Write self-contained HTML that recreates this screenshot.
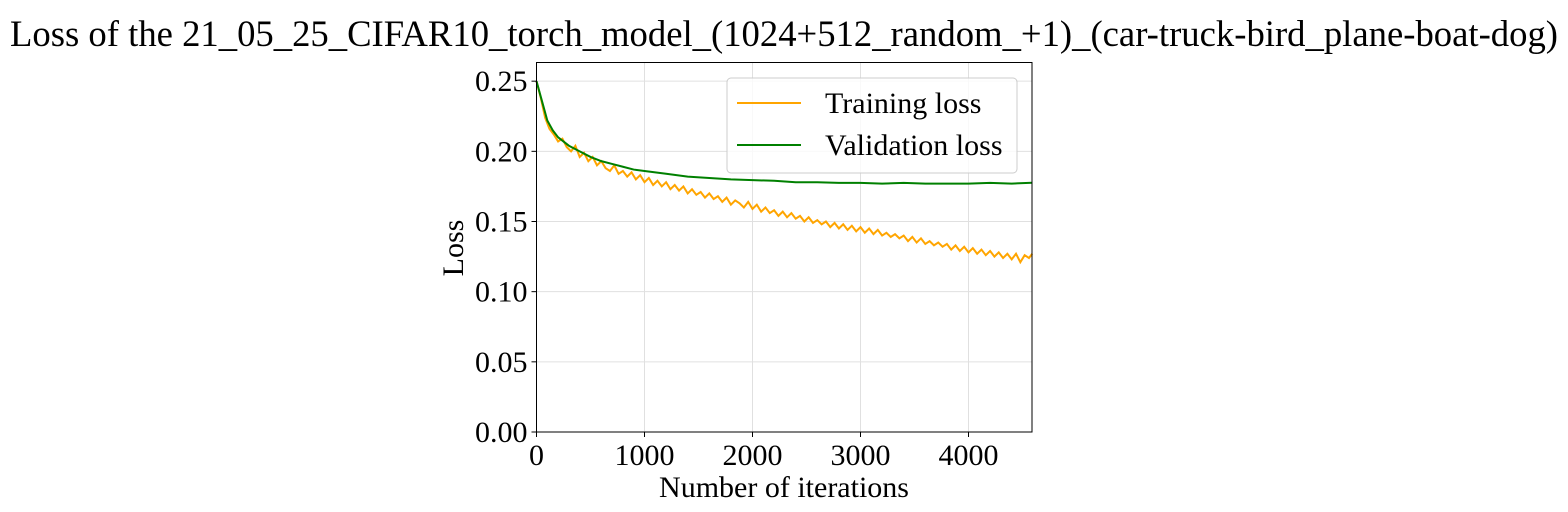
<!DOCTYPE html>
<html><head><meta charset="utf-8"><style>
body{margin:0;background:#fff;}
svg{display:block;font-family:"Liberation Serif",serif;}
</style></head><body>
<svg id="chart" width="1568" height="512">
<text x="784" y="46" font-size="36.6" text-anchor="middle" textLength="1548" lengthAdjust="spacingAndGlyphs">Loss of the 21_05_25_CIFAR10_torch_model_(1024+512_random_+1)_(car-truck-bird_plane-boat-dog)</text>
<g id="grid"></g><g id="series"></g><g id="axes"></g>
<text x="784" y="497" font-size="30" text-anchor="middle">Number of iterations</text>
<text transform="translate(463,248) rotate(-90)" font-size="30" text-anchor="middle">Loss</text>
<g>
<rect x="727" y="78" width="290" height="95" rx="4" fill="#fff" fill-opacity="0.8" stroke="#ccc"/>
<line x1="737" y1="103" x2="801" y2="103" stroke="orange" stroke-width="2"/>
<text x="825" y="113" font-size="30">Training loss</text>
<line x1="737" y1="145" x2="801" y2="145" stroke="green" stroke-width="2"/>
<text x="825" y="155" font-size="30">Validation loss</text>
</g>
</svg>
<script>
const trainIters=[0,40,80,120,160,200,240,280,320,360,400,440,480,520,560,600,640,680,720,760,800,840,880,920,960,1000,1040,1080,1120,1160,1200,1240,1280,1320,1360,1400,1440,1480,1520,1560,1600,1640,1680,1720,1760,1800,1840,1880,1920,1960,2000,2040,2080,2120,2160,2200,2240,2280,2320,2360,2400,2440,2480,2520,2560,2600,2640,2680,2720,2760,2800,2840,2880,2920,2960,3000,3040,3080,3120,3160,3200,3240,3280,3320,3360,3400,3440,3480,3520,3560,3600,3640,3680,3720,3760,3800,3840,3880,3920,3960,4000,4040,4080,4120,4160,4200,4240,4280,4320,4360,4400,4440,4480,4520,4560,4590];
const trainLoss=[0.250,0.238,0.224,0.216,0.212,0.207,0.209,0.203,0.200,0.204,0.196,0.199,0.193,0.196,0.190,0.193,0.188,0.186,0.190,0.184,0.186,0.182,0.185,0.180,0.183,0.178,0.181,0.176,0.179,0.175,0.178,0.173,0.176,0.172,0.175,0.170,0.173,0.169,0.171,0.167,0.170,0.166,0.168,0.164,0.167,0.162,0.165,0.163,0.160,0.164,0.159,0.162,0.157,0.160,0.156,0.158,0.154,0.157,0.153,0.156,0.152,0.154,0.150,0.153,0.149,0.151,0.148,0.150,0.146,0.149,0.145,0.148,0.144,0.147,0.143,0.146,0.142,0.145,0.141,0.144,0.140,0.142,0.139,0.141,0.138,0.140,0.136,0.139,0.135,0.138,0.134,0.136,0.133,0.135,0.132,0.134,0.130,0.133,0.129,0.132,0.128,0.131,0.127,0.130,0.126,0.129,0.125,0.128,0.124,0.127,0.123,0.127,0.121,0.126,0.124,0.127];
const valIters=[0,50,100,150,200,300,400,500,600,700,800,900,1000,1200,1400,1600,1800,2000,2200,2400,2600,2800,3000,3200,3400,3600,3800,4000,4200,4400,4590];
const valLoss=[0.250,0.236,0.222,0.215,0.210,0.204,0.200,0.196,0.193,0.191,0.189,0.187,0.186,0.184,0.182,0.181,0.180,0.1795,0.179,0.178,0.178,0.1775,0.1775,0.177,0.1775,0.177,0.177,0.177,0.1775,0.177,0.1776];
const xTicks=[0,1000,2000,3000,4000];
const yTicks=[0,0.05,0.10,0.15,0.20,0.25];
const yTickLabels=["0.00","0.05","0.10","0.15","0.20","0.25"];
const L=536.5,R=1032,T=62.5,B=432,XMAX=4588,YMAX=0.2633;
const sx=v=>L+(R-L)*v/XMAX, sy=v=>B-(B-T)*v/YMAX;
const NS="http://www.w3.org/2000/svg";
function mk(p,t,a){const e=document.createElementNS(NS,t);for(const k in a)e.setAttribute(k,a[k]);p.appendChild(e);return e;}
const grid=document.getElementById('grid'),ser=document.getElementById('series'),ax=document.getElementById('axes');
xTicks.forEach(v=>{
 const g=mk(grid,'line',{x1:sx(v),x2:sx(v),y1:T,y2:B,stroke:'#e0e0e0','stroke-width':1});
 
 
 mk(ax,'line',{x1:sx(v),x2:sx(v),y1:B,y2:B+5,stroke:'#000'});
 const t=mk(ax,'text',{x:sx(v),y:B+33,'font-size':30,'text-anchor':'middle'});t.textContent=v;
 
 
});
yTicks.forEach((v,i)=>{
 const g=mk(grid,'line',{x1:L,x2:R,y1:sy(v),y2:sy(v),stroke:'#e0e0e0','stroke-width':1});
 
 
 mk(ax,'line',{x1:L-5,x2:L,y1:sy(v),y2:sy(v),stroke:'#000'});
 const t=mk(ax,'text',{x:L-9,y:sy(v)+10,'font-size':30,'text-anchor':'end'});t.textContent=yTickLabels[i];
 
 
});
const fr=mk(ax,'rect',{x:L,y:T,width:R-L,height:B-T,fill:'none',stroke:'#000','stroke-width':1});


const tp=mk(ser,'polyline',{points:trainIters.map((x,i)=>sx(x)+','+sy(trainLoss[i])).join(' '),fill:'none',stroke:'orange','stroke-width':2});


const vp=mk(ser,'polyline',{points:valIters.map((x,i)=>sx(x)+','+sy(valLoss[i])).join(' '),fill:'none',stroke:'green','stroke-width':2});


</script>
</body></html>
